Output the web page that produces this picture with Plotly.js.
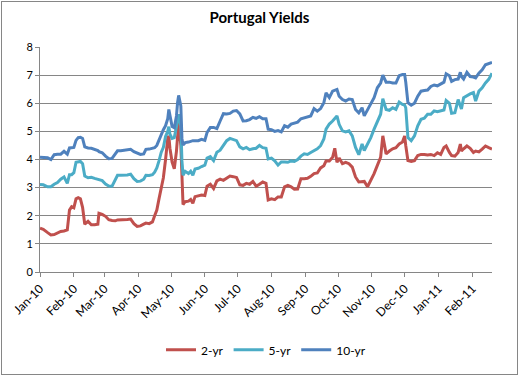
<!DOCTYPE html>
<html>
<head>
<meta charset="utf-8">
<script src="https://cdn.plot.ly/plotly-3.0.1.min.js"></script>
<style>
  html, body { margin:0; padding:0; background:#fff; }
  #wrap { position:relative; width:519px; height:376px; }
  #chart { width:519px; height:376px; }
  #frame { position:absolute; left:1px; top:1px; width:517px; height:374px; box-sizing:border-box; border:1px solid #868686; pointer-events:none; }
</style>
</head>
<body>
<div id="wrap"><div id="chart"></div><div id="frame"></div></div>
<script>
const dates = [
 "2010-01-01","2010-01-04","2010-01-08","2010-01-11","2010-01-14","2010-01-17","2010-01-20","2010-01-23","2010-01-26","2010-01-28",
 "2010-01-30","2010-02-01","2010-02-03","2010-02-05","2010-02-07","2010-02-09","2010-02-11","2010-02-14","2010-02-17","2010-02-20",
 "2010-02-23","2010-02-24","2010-02-27","2010-03-02","2010-03-05","2010-03-08","2010-03-11","2010-03-13","2010-03-16","2010-03-19",
 "2010-03-22","2010-03-25","2010-03-28","2010-03-31","2010-04-03","2010-04-06","2010-04-08","2010-04-11","2010-04-14","2010-04-16",
 "2010-04-18","2010-04-20","2010-04-22","2010-04-24","2010-04-26","2010-04-28","2010-04-29","2010-04-30","2010-05-02","2010-05-04",
 "2010-05-06","2010-05-07","2010-05-08","2010-05-10","2010-05-11","2010-05-12","2010-05-14","2010-05-17","2010-05-19","2010-05-21",
 "2010-05-23","2010-05-26","2010-05-29","2010-06-01","2010-06-03","2010-06-06","2010-06-09","2010-06-12","2010-06-15","2010-06-18",
 "2010-06-21","2010-06-24","2010-06-27","2010-06-30","2010-07-03","2010-07-06","2010-07-09","2010-07-12","2010-07-15","2010-07-18",
 "2010-07-21","2010-07-24","2010-07-27","2010-07-29","2010-08-01","2010-08-04","2010-08-07","2010-08-10","2010-08-13","2010-08-16",
 "2010-08-19","2010-08-22","2010-08-25","2010-08-28","2010-08-31","2010-09-03","2010-09-06","2010-09-09","2010-09-12","2010-09-15",
 "2010-09-18","2010-09-20","2010-09-23","2010-09-26","2010-09-28","2010-09-30","2010-10-02","2010-10-05","2010-10-08","2010-10-11",
 "2010-10-14","2010-10-17","2010-10-20","2010-10-23","2010-10-25","2010-10-28","2010-10-31","2010-11-03","2010-11-06","2010-11-09",
 "2010-11-11","2010-11-14","2010-11-17","2010-11-20","2010-11-23","2010-11-26","2010-11-29","2010-12-01","2010-12-02","2010-12-04",
 "2010-12-07","2010-12-10","2010-12-13","2010-12-16","2010-12-19","2010-12-22","2010-12-25","2010-12-28","2010-12-31","2011-01-03",
 "2011-01-06","2011-01-08","2011-01-11","2011-01-13","2011-01-16","2011-01-19","2011-01-21","2011-01-22","2011-01-24","2011-01-27",
 "2011-01-30","2011-02-02","2011-02-04","2011-02-07","2011-02-10","2011-02-13","2011-02-16","2011-02-19"
];
const yield2 = [
 1.56,1.52,1.40,1.32,1.33,1.40,1.44,1.46,1.50,2.20,
 2.32,2.28,2.60,2.64,2.60,2.30,1.70,1.80,1.68,1.68,
 1.70,2.09,2.05,1.98,1.86,1.83,1.82,1.85,1.85,1.87,
 1.87,1.88,1.72,1.62,1.64,1.70,1.74,1.72,1.78,2.00,
 2.20,2.60,3.05,3.35,4.00,4.75,4.84,4.40,3.91,3.67,
 4.30,4.84,5.30,4.50,3.20,2.40,2.50,2.52,2.58,2.44,
 2.68,2.71,2.74,2.72,3.05,3.12,2.97,3.24,3.30,3.26,
 3.35,3.41,3.39,3.36,3.10,3.08,3.15,3.12,3.22,3.05,
 3.12,3.20,3.15,2.56,2.60,2.57,2.67,2.67,3.03,3.08,
 3.03,2.94,2.95,3.32,3.32,3.33,3.40,3.50,3.52,3.70,
 3.78,3.95,3.95,4.08,4.40,3.90,4.05,3.85,3.90,3.85,
 3.73,3.38,3.20,3.20,3.22,3.03,3.25,3.50,3.79,4.08,
 4.84,4.20,4.30,4.38,4.42,4.55,4.62,4.84,4.50,3.96,
 3.93,3.96,4.14,4.18,4.18,4.16,4.18,4.14,4.24,4.18,
 4.43,4.48,4.25,4.14,4.12,4.25,4.55,4.30,4.38,4.48,
 4.40,4.25,4.30,4.27,4.37,4.48,4.42,4.37
];
const yield5 = [
 3.11,3.10,3.03,3.03,3.12,3.18,3.30,3.38,3.15,3.46,
 3.46,3.53,3.90,3.92,3.93,3.85,3.41,3.35,3.37,3.33,
 3.30,3.30,3.25,3.13,3.06,3.05,3.32,3.44,3.44,3.44,
 3.45,3.48,3.32,3.22,3.23,3.30,3.44,3.43,3.46,3.55,
 3.70,3.95,4.25,4.43,4.82,5.00,5.17,4.90,4.75,4.78,
 5.10,5.37,5.61,5.20,3.95,3.44,3.58,3.50,3.58,3.44,
 3.66,3.69,3.75,3.80,4.05,4.10,3.96,4.26,4.33,4.50,
 4.67,4.75,4.72,4.67,4.45,4.38,4.43,4.35,4.38,4.40,
 4.50,4.42,4.40,4.02,4.05,3.95,3.80,3.91,3.91,3.90,
 3.95,3.93,4.00,4.12,4.20,4.18,4.25,4.32,4.38,4.49,
 4.73,5.08,5.26,5.37,5.45,5.55,5.25,5.02,4.98,5.02,
 4.84,4.43,4.17,4.55,4.32,4.55,4.78,5.08,5.37,5.61,
 6.16,5.78,5.75,5.84,5.78,6.04,5.96,5.93,5.84,4.78,
 4.67,4.84,5.20,5.43,5.47,5.61,5.61,5.73,5.70,5.73,
 5.76,6.10,6.00,5.64,5.66,6.13,5.90,5.80,6.20,6.28,
 6.33,6.38,6.08,6.43,6.55,6.72,6.85,7.07
];
const yield10 = [
 4.08,4.08,4.06,4.00,4.17,4.19,4.19,4.29,4.19,4.41,
 4.42,4.43,4.68,4.78,4.79,4.75,4.45,4.41,4.40,4.37,
 4.32,4.28,4.24,4.12,4.03,4.04,4.22,4.31,4.31,4.33,
 4.35,4.36,4.28,4.22,4.18,4.20,4.36,4.37,4.39,4.42,
 4.50,4.70,4.85,5.06,5.20,5.45,5.78,5.55,5.17,5.13,
 5.55,6.02,6.28,5.90,4.75,4.52,4.60,4.62,4.65,4.67,
 4.67,4.67,4.72,4.68,4.96,5.14,5.14,5.10,5.37,5.63,
 5.62,5.64,5.72,5.74,5.62,5.37,5.38,5.42,5.50,5.46,
 5.52,5.45,5.45,5.08,5.06,5.00,5.03,4.98,5.20,5.15,
 5.26,5.30,5.33,5.45,5.49,5.51,5.55,5.81,5.72,5.81,
 6.02,6.37,6.20,6.43,6.46,6.49,6.25,6.13,6.08,6.15,
 6.13,5.78,5.66,5.84,5.55,5.78,5.96,6.20,6.55,6.72,
 7.00,6.75,6.75,6.72,6.72,6.98,7.02,7.02,6.75,6.02,
 5.93,6.00,6.25,6.43,6.45,6.47,6.60,6.65,6.62,6.70,
 6.75,7.05,6.98,6.78,6.84,6.86,7.10,6.95,6.86,7.10,
 6.95,6.93,6.90,7.07,7.19,7.37,7.42,7.45
];
const seriesNames = ["2-yr","5-yr","10-yr"];
const seriesColors = ["#C0504D","#4BACC6","#4F81BD"];
const tickVals = ["2010-01-01","2010-02-01","2010-03-01","2010-04-01","2010-05-01","2010-06-01","2010-07-01","2010-08-01","2010-09-01","2010-10-01","2010-11-01","2010-12-01","2011-01-01","2011-02-01"];
const tickText = ["Jan-10","Feb-10","Mar-10","Apr-10","May-10","Jun-10","Jul-10","Aug-10","Sep-10","Oct-10","Nov-10","Dec-10","Jan-11","Feb-11"];
const yTicks = [0,1,2,3,4,5,6,7,8];

const ys = [yield2, yield5, yield10];
const traces = ys.map((y, i) => ({
  x: dates, y: y, type: "scatter", mode: "lines", name: seriesNames[i],
  line: { color: seriesColors[i], width: 3 }
}));

const layout = {
  width: 519, height: 376,
  margin: { l: 40, r: 27, t: 47, b: 102 },
  paper_bgcolor: "#ffffff", plot_bgcolor: "#ffffff",
  font: { family: "Lato, 'Liberation Sans', sans-serif", size: 11, color: "#000" },
  title: { text: "<b>Portugal Yields</b>", font: { size: 15, color: "#000" }, x: 0.5, xref: "container", xanchor: "center", y: 0.952, yref: "container", yanchor: "middle" },
  xaxis: {
    type: "date", range: ["2010-01-01", "2011-02-19"],
    tickmode: "array", tickvals: tickVals, ticktext: tickText, tickangle: -45,
    ticks: "outside", ticklen: 4, tickcolor: "#868686",
    showline: true, linecolor: "#868686", linewidth: 1,
    showgrid: false, zeroline: false, tickfont: { size: 12 }
  },
  yaxis: {
    range: [0, 8], tickmode: "array", tickvals: yTicks,
    ticks: "outside", ticklen: 4, tickcolor: "#868686",
    showline: true, linecolor: "#868686", linewidth: 1,
    showgrid: true, gridcolor: "#868686", gridwidth: 1, zeroline: false,
    tickfont: { size: 11 }
  },
  showlegend: true,
  legend: { orientation: "h", x: 0.5, xanchor: "center", y: -0.346, yanchor: "middle", font: { size: 12 }, traceorder: "normal" }
};

Plotly.newPlot("chart", traces, layout, { displayModeBar: false, staticPlot: true });
</script>
</body>
</html>
